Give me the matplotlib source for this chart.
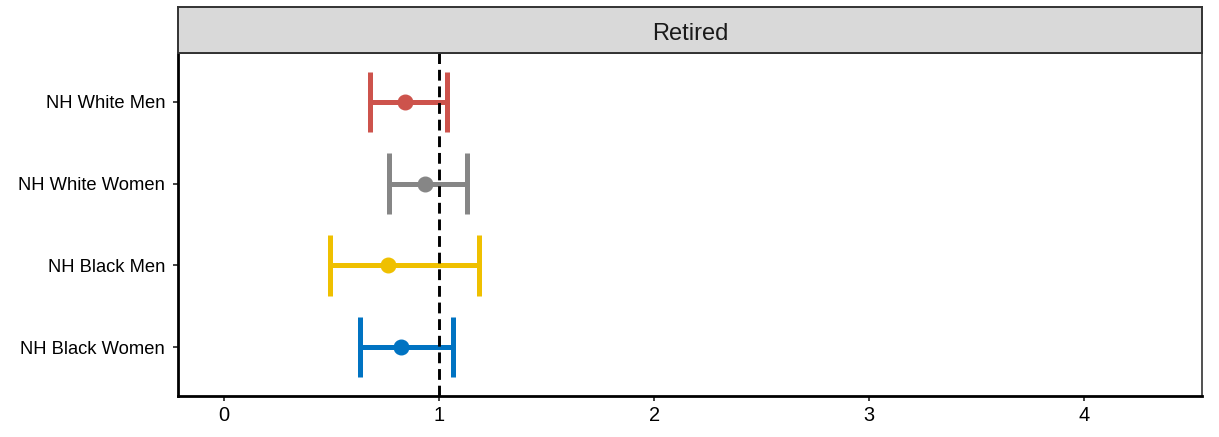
import matplotlib
matplotlib.use('Agg')
import matplotlib.pyplot as plt

plt.rcParams['font.family'] = ['Liberation Sans', 'DejaVu Sans']

# данные
groups = ['NH White Men', 'NH White Women', 'NH Black Men', 'NH Black Women']
est = [0.84, 0.933, 0.761, 0.821]
lo = [0.678, 0.766, 0.492, 0.631]
hi = [1.036, 1.129, 1.185, 1.062]
colors = ['#CD534C', '#868686', '#EFC000', '#0073C2']
panel_title = 'Retired'
xticks = [0, 1, 2, 3, 4]

fig = plt.figure(figsize=(12.19, 4.37), dpi=100)
ax = fig.add_axes([178 / 1219, 41 / 437, 1024 / 1219, 343 / 437])

n = len(groups)
ypos = [n - i for i in range(n)]
cap = 0.37

for y, e, l, h, c in zip(ypos, est, lo, hi, colors):
    ax.hlines(y, l, h, color=c, lw=3.6, zorder=2)
    ax.vlines([l, h], y - cap, y + cap, color=c, lw=3.6, zorder=2)
    ax.plot(e, y, 'o', color=c, ms=10.5, zorder=3)

ax.axvline(1, color='black', lw=2.1, linestyle=(0, (3.7, 2.0)), zorder=4)

ax.set_xlim(-0.215, 4.547)
ax.set_ylim(0.4, n + 0.6)
ax.set_xticks(xticks)
ax.set_xticklabels([str(t) for t in xticks], fontsize=14.4)
ax.set_yticks(ypos)
ax.set_yticklabels(groups, fontsize=13.2)
ax.tick_params(axis='both', length=3.8, width=1.3, color='#333333', labelcolor='black', pad=3.5)
ax.tick_params(axis='y', pad=5.5)

for s in ['left', 'bottom']:
    ax.spines[s].set_linewidth(2.0)
    ax.spines[s].set_color('black')
for s in ['top', 'right']:
    ax.spines[s].set_linewidth(1.2)
    ax.spines[s].set_color('#333333')

# полоса с заголовком панели
strip = fig.add_axes([178 / 1219, 384 / 437, 1024 / 1219, 46 / 437])
strip.set_facecolor('#D9D9D9')
strip.set_xticks([])
strip.set_yticks([])
for s in strip.spines.values():
    s.set_linewidth(1.4)
    s.set_color('#333333')
strip.text(0.5, 0.47, panel_title, ha='center', va='center_baseline', fontsize=17, color='#1A1A1A')

fig.savefig('out.png', dpi=100)
